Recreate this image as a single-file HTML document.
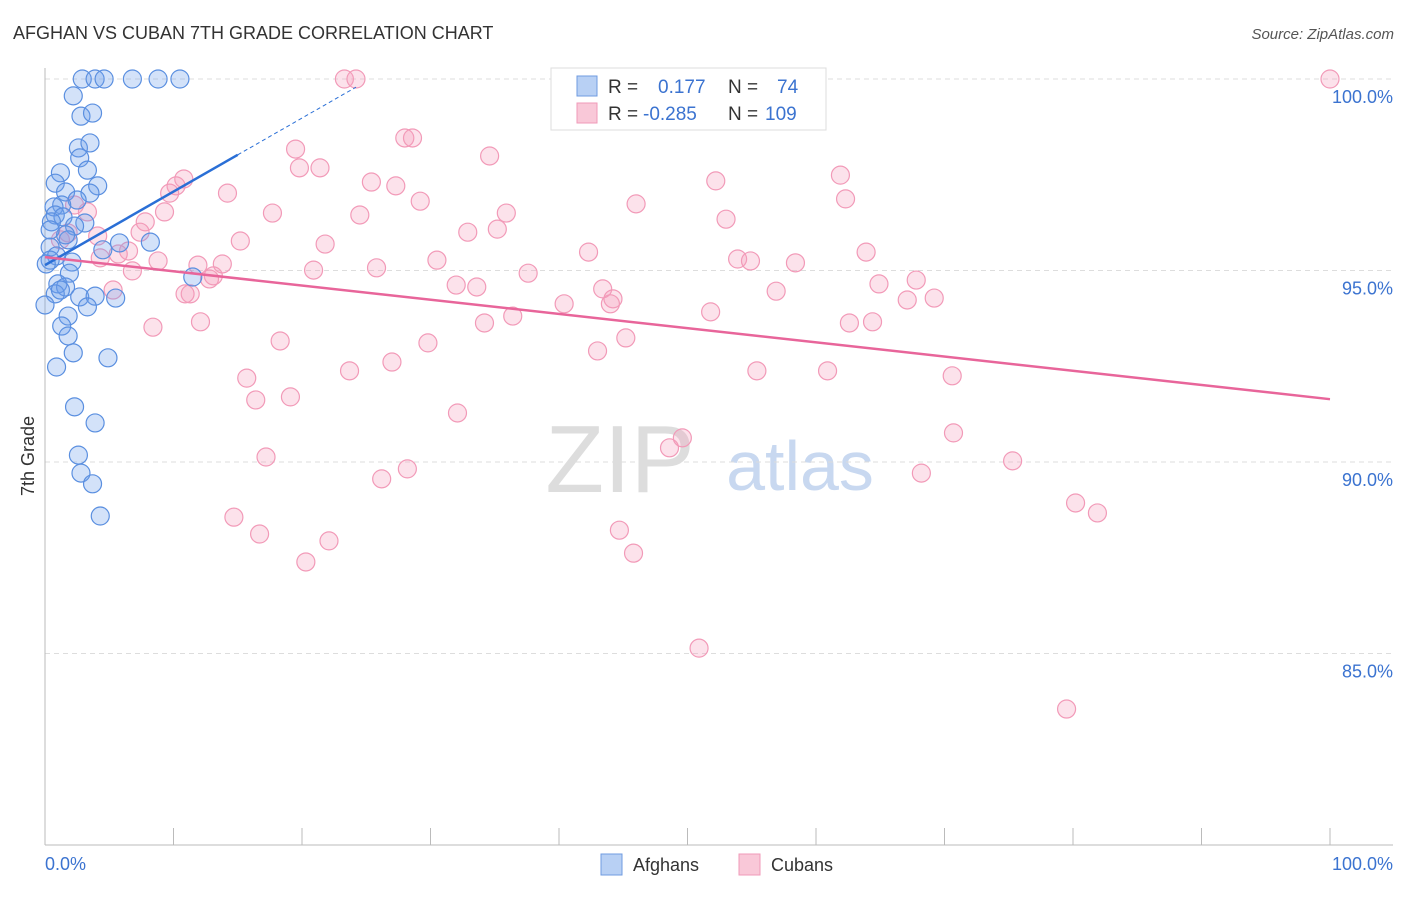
<!DOCTYPE html>
<html><head><meta charset="utf-8"><style>
body{margin:0;background:#fff;font-family:"Liberation Sans",sans-serif}
svg text{font-family:"Liberation Sans",sans-serif}
</style></head><body>
<svg id="c" width="1406" height="892">
<text x="13" y="39" font-size="18" fill="#333">AFGHAN VS CUBAN 7TH GRADE CORRELATION CHART</text>
<text x="1394" y="39" font-size="15" fill="#555" font-style="italic" text-anchor="end">Source: ZipAtlas.com</text>
<text x="620" y="492" font-size="96" fill="#ddd" font-family="Liberation Serif" text-anchor="middle">ZIP</text>
<text x="800" y="490" font-size="70" fill="#c8d8f0" text-anchor="middle">atlas</text>
<text transform="translate(34,456) rotate(-90)" font-size="18" fill="#333" text-anchor="middle">7th Grade</text>
<g id="grid"></g><g id="pts"></g><g id="lines"></g>
<g>
<rect x="551" y="68" width="275" height="62" fill="#fff" stroke="#ddd"/>
<rect x="577" y="76" width="20" height="20" fill="#b8d0f4" stroke="#6f9be0"/>
<rect x="577" y="103" width="20" height="20" fill="#f9c8d8" stroke="#f09ab8"/>
<text x="608" y="93" font-size="19" fill="#333">R = </text><text x="658" y="93" font-size="19" fill="#3b73d0">0.177</text>
<text x="728" y="93" font-size="19" fill="#333">N = </text><text x="777" y="93" font-size="19" fill="#3b73d0">74</text>
<text x="608" y="120" font-size="19" fill="#333">R = </text><text x="643" y="120" font-size="19" fill="#3b73d0">-0.285</text>
<text x="728" y="120" font-size="19" fill="#333">N = </text><text x="765" y="120" font-size="19" fill="#3b73d0">109</text>
</g>
<g>
<rect x="601" y="854" width="21" height="21" fill="#b8d0f4" stroke="#6f9be0"/>
<text x="633" y="871" font-size="18" fill="#333">Afghans</text>
<rect x="739" y="854" width="21" height="21" fill="#f9c8d8" stroke="#f09ab8"/>
<text x="771" y="871" font-size="18" fill="#333">Cubans</text>
</g>
</svg>
<script>
const yTicks=[100,95,90,85];
const xTickLabels=["0.0%","100.0%"];
const blueX=[2.9,3.9,4.6,6.8,8.8,10.5,2.2,2.8,3.7,2.6,3.5,2.7,3.3,1.2,4.1,0.8,1.6,3.5,2.5,1.3,0.7,0.8,1.4,3.1,2.3,0.5,1.8,1.6,5.8,8.2,4.5,0.4,0.9,2.1,0.4,1.9,1.0,1.6,0.8,2.7,3.9,3.3,5.5,11.5,1.8,1.3,1.8,2.2,0.9,4.9,2.3,3.9,2.6,2.8,3.7,4.3,0,0.1,0.4,1.2];
const blueY=[100,100,100,100,100,100,99.56,99.03,99.11,98.2,98.33,97.94,97.62,97.55,97.21,97.28,97.05,97.02,96.84,96.71,96.66,96.45,96.4,96.24,96.16,96.27,95.8,95.93,95.72,95.74,95.54,95.61,95.38,95.22,95.27,94.93,94.65,94.57,94.39,94.31,94.33,94.05,94.28,94.83,93.81,93.55,93.29,92.85,92.48,92.72,91.44,91.02,90.18,89.71,89.43,88.59,94.1,95.17,96.06,94.49];
const pinkX=[100,23.3,24.2,28.0,28.6,19.5,34.6,21.4,19.8,10.8,10.2,9.7,14.2,25.4,27.3,29.2,17.7,9.3,24.5,7.8,3.3,2.3,7.4,4.1,1.8,1.2,15.2,21.8,32.9,35.2,35.9,52.2,46.0,53.0,61.9,62.3,42.3,6.5,4.3,5.7,8.8,6.8,11.9,13.8,13.1,12.8,20.9,25.8,30.5,37.6,53.9,54.9,58.4,63.9,32.0,33.6,40.4,43.4,44.2,44.0,56.9,64.9,67.8,67.1,69.2,11.3,5.3,8.4,12.1,18.3,29.8,34.2,36.4,43.0,45.2,51.8,62.6,64.4,15.7,16.4,19.1,23.7,27.0,55.4,60.9,70.6,32.1,48.6,49.6,70.7,17.2,28.2,26.2,68.2,75.3,14.7,16.7,22.1,20.3,44.7,45.8,80.2,81.9,50.9,79.5,10.9];
const pinkY=[100,100,100,98.46,98.46,98.17,97.99,97.68,97.68,97.39,97.21,97.02,97.02,97.31,97.21,96.81,96.5,96.53,96.45,96.27,96.53,96.71,96.0,95.9,95.98,95.8,95.77,95.69,96.0,96.08,96.5,97.34,96.74,96.34,97.49,96.87,95.48,95.51,95.33,95.43,95.25,94.99,95.14,95.17,94.86,94.78,95.01,95.07,95.27,94.93,95.3,95.25,95.2,95.48,94.62,94.57,94.13,94.52,94.26,94.13,94.46,94.65,94.75,94.23,94.28,94.39,94.49,93.52,93.66,93.16,93.11,93.63,93.81,92.9,93.24,93.92,93.63,93.66,92.19,91.62,91.7,92.38,92.61,92.38,92.38,92.25,91.28,90.37,90.63,90.76,90.13,89.82,89.56,89.71,90.03,88.56,88.12,87.94,87.39,88.22,87.62,88.93,88.67,85.14,83.55,94.39];
const blueFit=[95.14,0.192];
const pinkFit=[95.35,-0.0371];
const X=v=>45+v*12.85, Y=v=>79+(100-v)*38.3;
const NS="http://www.w3.org/2000/svg";
function mk(t,a,p){const e=document.createElementNS(NS,t);for(const k in a)e.setAttribute(k,a[k]);p.appendChild(e);return e;}
const g=document.getElementById('grid');
yTicks.forEach(v=>{
 const l=mk('line',{x1:45,x2:1393,y1:Y(v),y2:Y(v),stroke:'#ddd','stroke-dasharray':'5,4'},g);
 
 
 const t=mk('text',{x:1393,y:Y(v)+24,'font-size':18,fill:'#3b73d0','text-anchor':'end'},g);
 t.textContent=v.toFixed(1)+'%';
 
 
});
const ax=mk('line',{x1:45,x2:1393,y1:845,y2:845,stroke:'#bbb'},g);


const ay=mk('line',{x1:45,x2:45,y1:68,y2:845,stroke:'#bbb'},g);


for(let i=0;i<=10;i++){const t=mk('line',{x1:X(i*10),x2:X(i*10),y1:828,y2:845,stroke:'#bbb'},g);
 
 }
[[0,'start',45],[100,'end',1393]].forEach((d,i)=>{const t=mk('text',{x:d[2],y:870,'font-size':18,fill:'#3b73d0','text-anchor':d[1]},g);t.textContent=xTickLabels[i];
 
 });
const p=document.getElementById('pts');
pinkX.forEach((x,i)=>{const c=mk('circle',{cx:X(x),cy:Y(pinkY[i]),r:9,fill:'rgba(244,160,190,0.3)',stroke:'#f29ab8','stroke-width':1.2},p);
 
 });
blueX.forEach((x,i)=>{const c=mk('circle',{cx:X(x),cy:Y(blueY[i]),r:9,fill:'rgba(110,160,235,0.3)',stroke:'#5a8fe0','stroke-width':1.2},p);
 
 });
const L=document.getElementById('lines');
const b1=mk('line',{x1:X(0),y1:Y(blueFit[0]),x2:X(15),y2:Y(blueFit[0]+15*blueFit[1]),stroke:'#2a6fd6','stroke-width':2.5},L);


const b2=mk('line',{x1:X(15),y1:Y(blueFit[0]+15*blueFit[1]),x2:X(24.2),y2:Y(blueFit[0]+24.2*blueFit[1]),stroke:'#2a6fd6','stroke-width':1,'stroke-dasharray':'4,3'},L);


const pl=mk('line',{x1:X(0),y1:Y(pinkFit[0]),x2:X(100),y2:Y(pinkFit[0]+100*pinkFit[1]),stroke:'#e8659a','stroke-width':2.5},L);


</script>
</body></html>
